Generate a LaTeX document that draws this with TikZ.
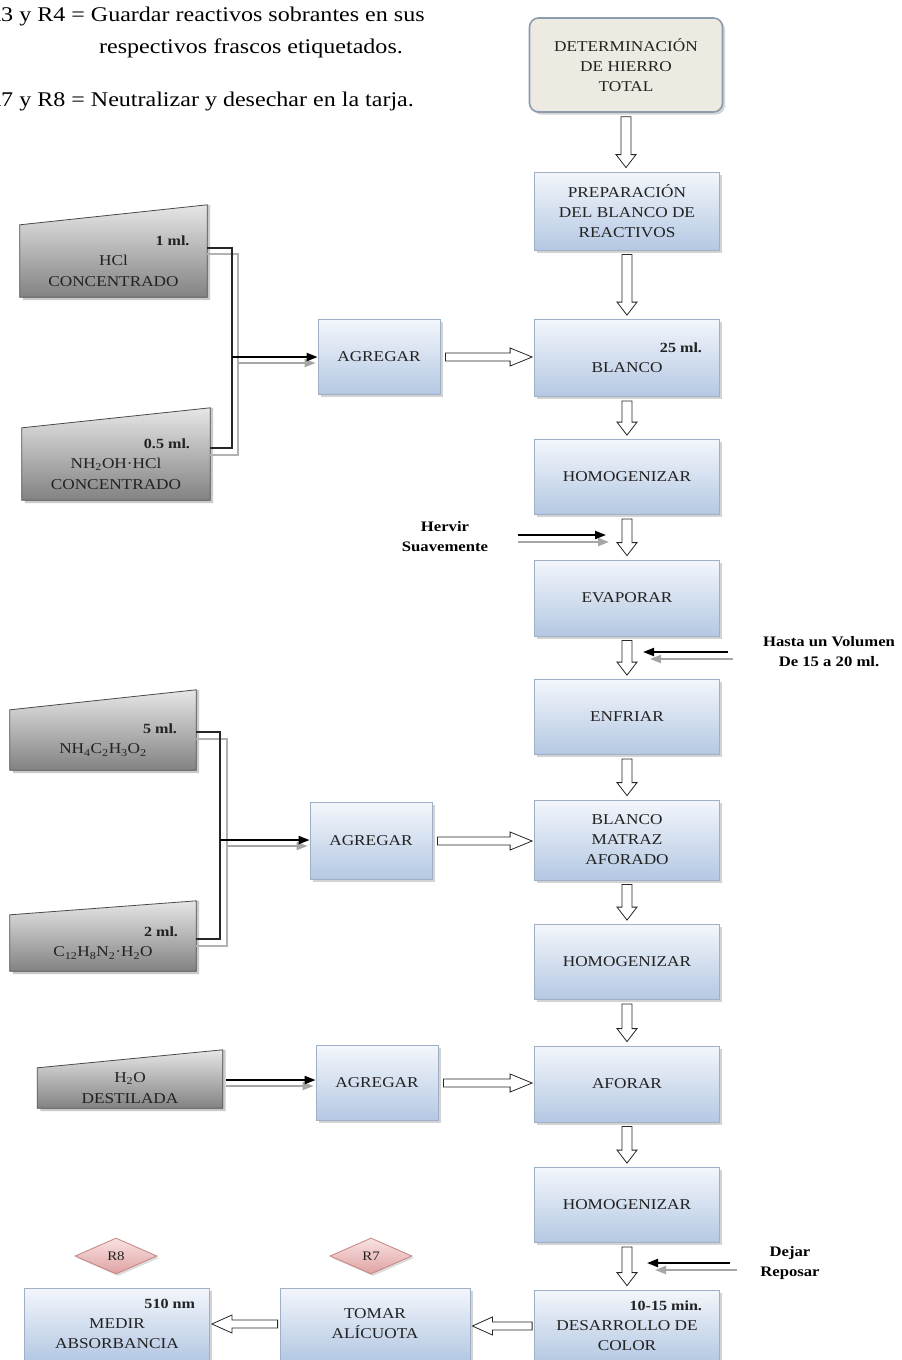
\documentclass[tikz,border=0pt]{standalone}
\usepackage{fontspec}
\setmainfont{Liberation Serif}[FakeStretch=1.15]
\usetikzlibrary{shapes.geometric,shadows,calc,arrows.meta,backgrounds}
\definecolor{bxtop}{HTML}{F3F6FB}
\definecolor{bxbot}{HTML}{B4C8E3}
\definecolor{bxline}{HTML}{9FB0C6}
\definecolor{txt}{HTML}{222222}
\definecolor{detfill}{HTML}{EDEBE1}
\definecolor{detline}{HTML}{8D9BAE}
\definecolor{rgtop}{HTML}{E6E6E6}
\definecolor{rgbot}{HTML}{828282}
\definecolor{rgline}{HTML}{4A4A4A}
\definecolor{dmtop}{HTML}{F9E2E2}
\definecolor{dmbot}{HTML}{E0A2A2}
\definecolor{dmline}{HTML}{C48484}
\definecolor{shd}{HTML}{A8A8A8}
\newcommand\bfsz{\fontsize{14}{17}\selectfont\bfseries}
\newcommand\amtline[2][150pt]{\makebox[#1][r]{\bfsz #2}}
\newcommand\darr[2]{\draw[harrow] let \p1=($(#1.south)+(0,4)$), \p2=($(#2.north)+(0,-4)$) in
  (\x1-5pt,\y1) -- (\x1-5pt,\y2+13pt) -- (\x1-10pt,\y2+13pt) -- (\x1,\y2) -- (\x1+10pt,\y2+13pt) -- (\x1+5pt,\y2+13pt) -- (\x1+5pt,\y1) -- cycle;}
\newcommand\rarr[2]{\draw[harrow] let \p1=($(#1.east)+(5,0)$), \p2=($(#2.west)+(-2,0)$) in
  (\x1,\y1-4pt) -- (\x2-22pt,\y1-4pt) -- (\x2-22pt,\y1-9pt) -- (\x2,\y1) -- (\x2-22pt,\y1+9pt) -- (\x2-22pt,\y1+4pt) -- (\x1,\y1+4pt) -- cycle;}
\newcommand\larr[2]{\draw[harrow] let \p1=($(#1.west)+(-2,0)$), \p2=($(#2.east)+(2,0)$) in
  (\x1,\y1-4pt) -- (\x2+20pt,\y1-4pt) -- (\x2+20pt,\y1-9pt) -- (\x2,\y1) -- (\x2+20pt,\y1+9pt) -- (\x2+20pt,\y1+4pt) -- (\x1,\y1+4pt) -- cycle;}
\newcommand\trap[2]{%
  \fill[shd,opacity=.6] ($(#1.south west)+(3,3)$) -- ($(#1.south east)+(3,3)$) -- ($(#1.north east)+(3,-#2)$) -- ($(#1.north west)+(3,0)$) -- cycle;
  \shade[top color=rgtop, bottom color=rgbot, draw=rgline, line width=0.8pt] (#1.south west) -- (#1.south east) -- ($(#1.north east)+(0,-#2)$) -- (#1.north west) -- cycle;}
\tikzset{
 mbox/.style={rectangle, draw=bxline, line width=0.8pt, top color=bxtop, bottom color=bxbot, text=txt, align=center, font=\fontsize{15}{20}\selectfont, inner sep=2pt, drop shadow={shadow xshift=2.5pt, shadow yshift=-2.5pt, opacity=.5, fill=shd}},
 detbox/.style={rectangle, rounded corners=9pt, draw=detline, line width=1.6pt, fill=detfill, text=txt, align=center, font=\fontsize{15}{20}\selectfont, drop shadow={shadow xshift=2.5pt, shadow yshift=-2.5pt, opacity=.5, fill=shd}},
 rgnode/.style={rectangle, inner sep=0pt, text=txt, align=center, font=\fontsize{15}{20.5}\selectfont},
 dmd/.style={diamond, aspect=2.3, minimum width=82pt, minimum height=36pt, inner sep=0pt, draw=dmline, line width=0.8pt, top color=dmtop, bottom color=dmbot, text=txt, font=\fontsize{13}{15}\selectfont, drop shadow={shadow xshift=2pt, shadow yshift=-2pt, opacity=.4, fill=shd}},
 lbl/.style={text=black, align=center, font=\fontsize{14.5}{20}\selectfont\bfseries},
 note/.style={text=black, font=\fontsize{20.9}{24}\selectfont, inner sep=0pt},
 harrow/.style={draw=black!85, fill=white, line width=0.8pt},
 blk/.style={draw=black, line width=2pt, -{Triangle[length=11pt,width=8pt]}},
 gry/.style={draw=black!35, line width=2pt, -{Triangle[length=11pt,width=8pt]}},
 blkl/.style={draw=black!85, line width=1.4pt},
 gryl/.style={draw=black!30, line width=1.4pt},
}
\begin{document}
\begin{tikzpicture}[x=1pt,y=-1pt]
\useasboundingbox (0,0) rectangle (902,1360);
\begin{pgfonlayer}{background}
\fill[white] (0,0) rectangle (902,1360);
\end{pgfonlayer}
% notes
\node[note, anchor=base west] (n1) at (-15,21) {R3 y R4 = Guardar reactivos sobrantes en sus};
\node[note, anchor=base] (n2) at (251,53) {respectivos frascos etiquetados.};
\node[note, anchor=base west] (n3) at (-15,106) {R7 y R8 = Neutralizar y desechar en la tarja.};
% main column
\node[detbox, minimum width=193pt, minimum height=94pt] (det) at (626,65) {DETERMINACIÓN\\DE HIERRO\\TOTAL};
\node[mbox, minimum width=185pt, minimum height=78pt] (prep) at (627,211) {PREPARACIÓN\\DEL BLANCO DE\\REACTIVOS};
\node[mbox, minimum width=185pt, minimum height=77pt] (blanco) at (627,358) {\amtline{25 ml.}\\BLANCO};
\node[mbox, minimum width=185pt, minimum height=75pt] (homo1) at (627,477) {HOMOGENIZAR};
\node[mbox, minimum width=185pt, minimum height=76pt] (evap) at (627,598) {EVAPORAR};
\node[mbox, minimum width=185pt, minimum height=75pt] (enfr) at (627,717) {ENFRIAR};
\node[mbox, minimum width=185pt, minimum height=80pt] (matraz) at (627,840) {BLANCO\\MATRAZ\\AFORADO};
\node[mbox, minimum width=185pt, minimum height=75pt] (homo2) at (627,962) {HOMOGENIZAR};
\node[mbox, minimum width=185pt, minimum height=76pt] (aforar) at (627,1084) {AFORAR};
\node[mbox, minimum width=185pt, minimum height=75pt] (homo3) at (627,1205) {HOMOGENIZAR};
\node[mbox, minimum width=185pt, minimum height=72pt] (desa) at (627,1326) {\amtline{10-15 min.}\\DESARROLLO DE\\COLOR};
% agregar
\node[mbox, minimum width=122pt, minimum height=75pt] (ag1) at (379,357) {AGREGAR};
\node[mbox, minimum width=122pt, minimum height=77pt] (ag2) at (371,841) {AGREGAR};
\node[mbox, minimum width=122pt, minimum height=75pt] (ag3) at (377,1083) {AGREGAR};
% bottom row
\node[mbox, minimum width=190pt, minimum height=72pt] (tomar) at (375,1324) {TOMAR\\ALÍCUOTA};
\node[mbox, minimum width=185pt, minimum height=72pt] (medir) at (117,1324) {\amtline[156pt]{510 nm}\\MEDIR\\ABSORBANCIA};
\node[dmd] (r8) at (116,1256) {R8};
\node[dmd] (r7) at (371,1256) {R7};
% reagents
\node[rgnode, minimum width=187pt, minimum height=72pt] (hcl) at (113.5,261) {\amtline[152pt]{1 ml.}\\HCl\\CONCENTRADO};
\node[rgnode, minimum width=188pt, minimum height=72pt] (nhoh) at (116,464) {\amtline[148pt]{0.5 ml.}\\NH\textsubscript{2}OH·HCl\\CONCENTRADO};
\node[rgnode, minimum width=186pt, minimum height=60pt] (nh4) at (103,740) {\amtline[148pt]{5 ml.}\\NH\textsubscript{4}C\textsubscript{2}H\textsubscript{3}O\textsubscript{2}};
\node[rgnode, minimum width=186pt, minimum height=56pt] (c12) at (103,943) {\amtline[150pt]{2 ml.}\\C\textsubscript{12}H\textsubscript{8}N\textsubscript{2}·H\textsubscript{2}O};
\node[rgnode, minimum width=185pt, minimum height=40pt] (h2o) at (130,1088) {H\textsubscript{2}O\\DESTILADA};
\begin{pgfonlayer}{background}
\trap{hcl}{20}
\trap{nhoh}{20}
\trap{nh4}{20}
\trap{c12}{14}
\trap{h2o}{18}
\end{pgfonlayer}
% hollow arrows
\darr{det}{prep}
\darr{prep}{blanco}
\darr{blanco}{homo1}
\darr{homo1}{evap}
\darr{evap}{enfr}
\darr{enfr}{matraz}
\darr{matraz}{homo2}
\darr{homo2}{aforar}
\darr{aforar}{homo3}
\darr{homo3}{desa}
\rarr{ag1}{blanco}
\rarr{ag2}{matraz}
\rarr{ag3}{aforar}
\larr{desa}{tomar}
\larr{tomar}{medir}
% bracket 1
\coordinate (j1) at (232,357);
\draw[gryl] ($(hcl.east)+(0,-7)$) -| ($(j1)+(6,0)$) |- ($(nhoh.east)+(0,-9)$);
\draw[blkl] ($(hcl.east)+(0,-13)$) -| (j1) |- ($(nhoh.east)+(0,-16)$);
\draw[gry] ($(j1)+(6,6)$) -- ($(ag1.west)+(-2,6)$);
\draw[blk] (j1) -- (ag1.west);
% bracket 2
\coordinate (j2) at (220,840);
\draw[gryl] ($(nh4.east)+(0,-1)$) -| ($(j2)+(7,0)$) |- ($(c12.east)+(0,3)$);
\draw[blkl] ($(nh4.east)+(0,-8)$) -| (j2) |- ($(c12.east)+(0,-4)$);
\draw[gry] ($(j2)+(7,6)$) -- ($(ag2.west)+(-2,5)$);
\draw[blk] (j2) -- (j2 -| ag2.west);
% water
\coordinate (hs) at ($(h2o.east)+(3,-8)$);
\coordinate (hg) at ($(h2o.east)+(3,-2)$);
\draw[gry] (hg) -- ($(hg -| ag3.west)+(-2,0)$);
\draw[blk] (hs) -- (hs -| ag3.west);
% side labels
\node[lbl] (hervir) at (445,537) {Hervir\\Suavemente};
\coordinate (hv1) at (518,535); \coordinate (hv2) at (606,535);
\coordinate (hg1) at (518,542); \coordinate (hg2) at (609,542);
\draw[gry] (hg1) -- (hg2);
\draw[blk] (hv1) -- (hv2);
\node[lbl] (hasta) at (829,652) {Hasta un Volumen\\De 15 a 20 ml.};
\coordinate (ha1) at (728,652); \coordinate (ha2) at (643,652);
\coordinate (hb1) at (733,659); \coordinate (hb2) at (650,659);
\draw[gry] (hb1) -- (hb2);
\draw[blk] (ha1) -- (ha2);
\node[lbl] (dejar) at (790,1263) {Dejar\\Reposar};
\coordinate (dj1) at (730,1263); \coordinate (dj2) at (647,1263);
\coordinate (dg1) at (737,1270); \coordinate (dg2) at (655,1270);
\draw[gry] (dg1) -- (dg2);
\draw[blk] (dj1) -- (dj2);
\end{tikzpicture}
\end{document}
